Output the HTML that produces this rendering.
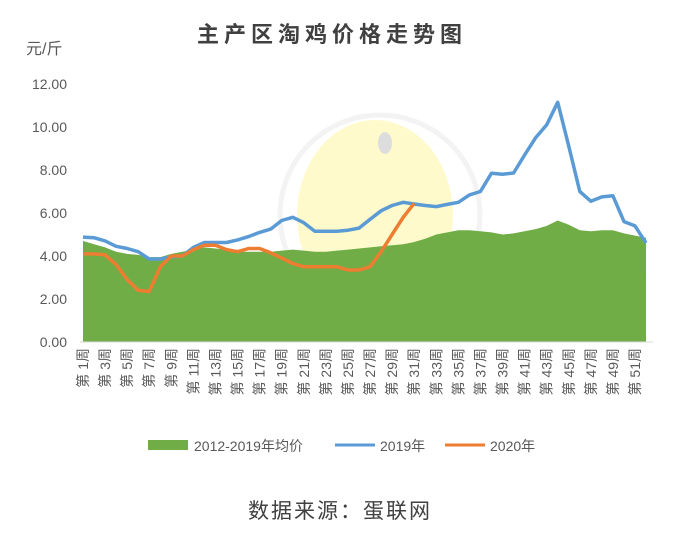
<!DOCTYPE html>
<html><head><meta charset="utf-8"><style>
body{margin:0;background:#fff;}
svg text{font-family:"Liberation Sans","Noto Sans CJK SC",sans-serif;}
</style></head><body>
<svg width="675" height="532" xmlns="http://www.w3.org/2000/svg">
<rect width="675" height="532" fill="#fff"/>
<text x="332" y="42" text-anchor="middle" font-size="22" font-weight="bold" letter-spacing="5" fill="#404040">主产区淘鸡价格走势图</text>
<text x="26" y="54" font-size="16" fill="#595959">元/斤</text>
<ellipse cx="375" cy="215" rx="78" ry="95" fill="#fff7a8" opacity="0.6"/>
<circle cx="380" cy="215" r="100" fill="none" stroke="#e8e8e8" stroke-width="5" opacity="0.5"/>
<ellipse cx="385" cy="143" rx="7" ry="11" fill="#ddd"/>
<g id="yl" font-size="14" fill="#595959" text-anchor="end">
<text x="67" y="89">12.00</text><text x="67" y="132">10.00</text><text x="67" y="175">8.00</text>
<text x="67" y="218">6.00</text><text x="67" y="261">4.00</text><text x="67" y="304">2.00</text><text x="67" y="347">0.00</text>
</g>
<g id="plot"></g>
<line x1="80" y1="342" x2="653" y2="342" stroke="#d9d9d9" stroke-width="1"/>
<g id="xl" font-size="14" fill="#595959"></g>
<rect x="148" y="440" width="40" height="10" fill="#70ad47"/>
<text x="194" y="451" font-size="14" fill="#595959">2012-2019年均价</text>
<line x1="335" y1="445" x2="375" y2="445" stroke="#5b9bd5" stroke-width="3"/>
<text x="380" y="451" font-size="14" fill="#595959">2019年</text>
<line x1="445" y1="445" x2="485" y2="445" stroke="#ed7d31" stroke-width="3"/>
<text x="490" y="451" font-size="14" fill="#595959">2020年</text>
<text x="340" y="518" text-anchor="middle" font-size="21" letter-spacing="2" fill="#404040">数据来源：蛋联网</text>
</svg>
<script>
var g=[4.7,4.55,4.4,4.2,4.1,4.05,3.95,3.95,4.1,4.2,4.3,4.4,4.35,4.3,4.2,4.2,4.2,4.2,4.25,4.3,4.25,4.2,4.2,4.25,4.3,4.35,4.4,4.45,4.5,4.55,4.65,4.8,5.0,5.1,5.2,5.2,5.15,5.1,5.0,5.05,5.15,5.25,5.4,5.65,5.45,5.2,5.15,5.2,5.2,5.05,4.95,4.85];
var b=[4.88,4.85,4.7,4.45,4.35,4.2,3.86,3.86,3.96,4.0,4.4,4.63,4.63,4.63,4.75,4.9,5.1,5.25,5.65,5.8,5.55,5.15,5.15,5.15,5.2,5.3,5.7,6.1,6.35,6.5,6.42,6.35,6.3,6.4,6.5,6.84,7.0,7.85,7.8,7.86,8.7,9.5,10.1,11.15,9.1,7.0,6.55,6.75,6.8,5.6,5.4,4.6];
var o=[4.1,4.1,4.05,3.6,2.9,2.4,2.35,3.5,4.0,4.0,4.3,4.5,4.5,4.3,4.2,4.35,4.35,4.15,3.9,3.65,3.5,3.5,3.5,3.5,3.35,3.35,3.5,4.2,5.0,5.8,6.45];
function X(i){return 83+i*11.04;}function Y(v){return 342-v*21.5;}
function pts(a){return a.map(function(v,i){return X(i).toFixed(1)+','+Y(v).toFixed(1)}).join(' ');}
var p=document.getElementById('plot');
var s='<polygon points="'+X(0)+',342 '+pts(g)+' '+X(51)+',342" fill="#70ad47"/>';
s+='<polyline points="'+pts(b)+'" fill="none" stroke="#5b9bd5" stroke-width="3.5" stroke-linejoin="round"/>';
s+='<polyline points="'+pts(o)+'" fill="none" stroke="#ed7d31" stroke-width="3.5" stroke-linejoin="round"/>';
p.innerHTML=s;
var xl=document.getElementById('xl'),t='';
for(var i=0;i<52;i+=2){var x=X(i)+5;var n=i+1;var txt='第 '+n+'周';t+='<text transform="translate('+x+',348) rotate(-90)" text-anchor="end" xml:space="preserve">'+txt+'</text>';}
xl.innerHTML=t;
</script>
</body></html>
